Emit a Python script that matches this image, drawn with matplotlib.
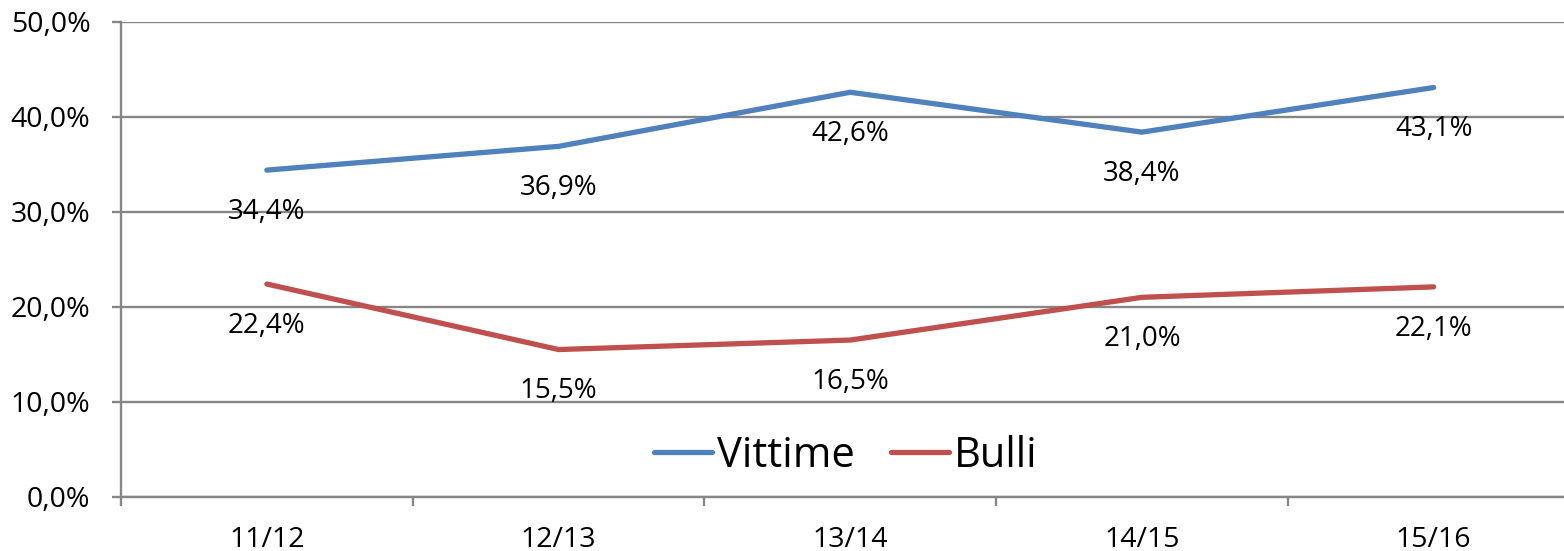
import matplotlib
matplotlib.use("Agg")
import matplotlib.pyplot as plt
from matplotlib.ticker import FixedLocator

categories = ["11/12", "12/13", "13/14", "14/15", "15/16"]
vittime = [34.4, 36.9, 42.6, 38.4, 43.1]
bulli = [22.4, 15.5, 16.5, 21.0, 22.1]
yticks = [0, 10, 20, 30, 40, 50]

FONT = "Open Sans"
GRID = "#868686"
BLUE = "#4F81BD"
RED = "#C0504D"

fig = plt.figure(figsize=(15.64, 5.51), dpi=100)
ax = fig.add_axes([121 / 1564, (551 - 496.7) / 551, 1458.5 / 1564, 474.7 / 551])

x = list(range(len(categories)))
ax.plot(x, vittime, color=BLUE, lw=3.8, solid_capstyle="round", label="Vittime", zorder=3)
ax.plot(x, bulli, color=RED, lw=3.8, solid_capstyle="round", label="Bulli", zorder=3)

def fmt(v):
    return f"{v:.1f}".replace(".", ",") + "%"

for series in (vittime, bulli):
    for xi, v in zip(x, series):
        ax.annotate(fmt(v), (xi, v), xytext=(0, -30), textcoords="offset points",
                    ha="center", va="center", fontsize=20, family=FONT, color="black")

ax.set_xlim(-0.5, len(categories) - 0.5)
ax.set_ylim(0, 50)
ax.set_yticks(yticks)
ax.set_yticklabels([fmt(v) for v in yticks], fontsize=20.5, family=FONT)
ax.set_xticks(x)
ax.set_xticklabels(categories, fontsize=20.5, family=FONT)
ax.xaxis.set_minor_locator(FixedLocator([i + 0.5 for i in range(-1, len(categories))]))

ax.tick_params(axis="x", which="major", length=0, pad=21)
ax.tick_params(axis="x", which="minor", length=6.5, width=1.7, color=GRID, direction="out")
ax.tick_params(axis="y", which="major", length=6.5, width=1.7, color=GRID, pad=15.5, direction="out")

ax.grid(axis="y", color=GRID, lw=1.7, zorder=0)
ax.set_axisbelow(True)
for s in ("top", "right"):
    ax.spines[s].set_visible(False)
for s in ("left", "bottom"):
    ax.spines[s].set_color(GRID)
    ax.spines[s].set_linewidth(1.7)

leg = ax.legend(loc="center", bbox_to_anchor=(0.497, 0.086), ncol=2, frameon=False,
                prop={"family": FONT, "size": 30}, handlelength=1.4, handletextpad=0.12,
                columnspacing=0.85, borderpad=0)

fig.savefig("out.png", dpi=100, facecolor="white")
